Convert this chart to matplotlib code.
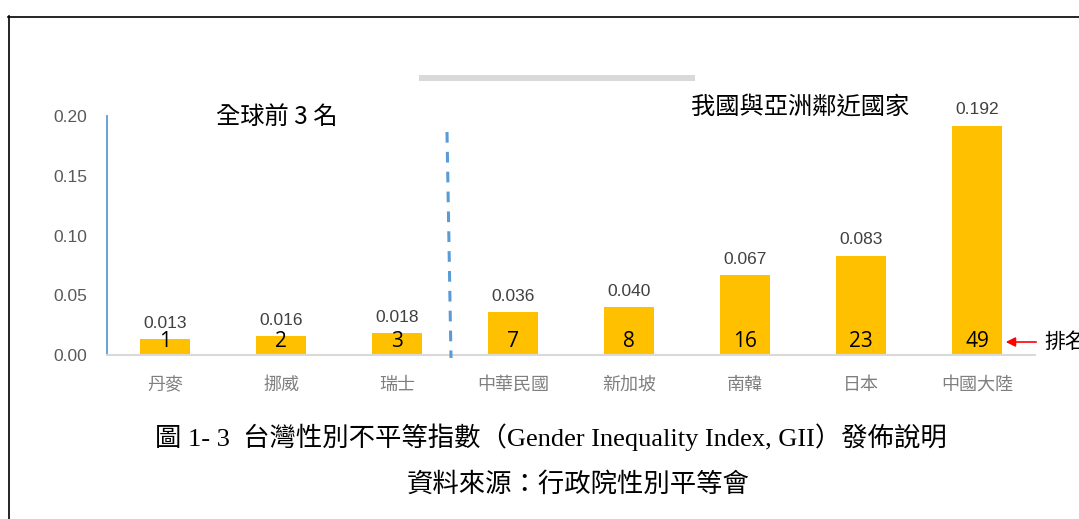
import matplotlib
matplotlib.use("Agg")
import matplotlib.pyplot as plt
from matplotlib.lines import Line2D
from matplotlib.patches import Rectangle

plt.rcParams['font.family'] = ['Noto Sans CJK TC', 'DejaVu Sans']

categories = ['丹麥', '挪威', '瑞士', '中華民國', '新加坡', '南韓', '日本', '中國大陸']
gii_values = [0.013, 0.016, 0.018, 0.036, 0.040, 0.067, 0.083, 0.192]
ranks = ['1', '2', '3', '7', '8', '16', '23', '49']
value_labels = ['0.013', '0.016', '0.018', '0.036', '0.040', '0.067', '0.083', '0.192']
y_ticks = [0.00, 0.05, 0.10, 0.15, 0.20]
y_tick_labels = ['0.00', '0.05', '0.10', '0.15', '0.20']

W, H = 1079, 519
fig = plt.figure(figsize=(W / 100, H / 100), dpi=100)


def fx(px):
    return px / W


def fy(py):
    return 1 - py / H


num_font = ['Liberation Sans', 'DejaVu Sans']

# document border
fig.add_artist(Line2D([fx(8), 1.0], [fy(16.5), fy(16.5)], color='black', lw=1.2))
fig.add_artist(Line2D([fx(8.5), fx(8.5)], [fy(16), 0], color='black', lw=1.2))

# grey title placeholder bar
fig.add_artist(Rectangle((fx(419), fy(81)), fx(695) - fx(419), fy(75) - fy(81),
                         facecolor='#d9d9d9', edgecolor='none'))

ax = fig.add_axes([fx(107), fy(355), fx(1035) - fx(107), fy(116) - fy(355)])
x = list(range(len(categories)))
ax.bar(x, gii_values, width=0.43, color='#ffc000', zorder=2)
ax.set_xlim(-0.5, 7.5)
ax.set_ylim(0, 0.20)

for s in ['top', 'right']:
    ax.spines[s].set_visible(False)
ax.spines['left'].set_color('#5b9bd5')
ax.spines['left'].set_linewidth(1.3)
ax.spines['bottom'].set_color('#d9d9d9')
ax.spines['bottom'].set_linewidth(1.5)

ax.set_yticks(y_ticks)
ax.set_yticklabels(y_tick_labels, color='#595959', fontsize=12.5, family=num_font)
ax.tick_params(axis='y', length=0, pad=14)
ax.set_xticks(x)
ax.set_xticklabels(categories, color='#7f7f7f', fontsize=13)
ax.tick_params(axis='x', length=0, pad=15)

for xi, v, lab, rk in zip(x, gii_values, value_labels, ranks):
    ax.annotate(lab, (xi, v), xytext=(0, 6), textcoords='offset points',
                ha='center', va='bottom', fontsize=12.5, color='#404040',
                family=num_font)
    ax.text(xi, 0.0115, rk, ha='center', va='center', fontsize=15, color='black',
            family=['Open Sans'], zorder=3)

# dashed separator
fig.add_artist(Line2D([fx(447), fx(451)], [fy(132), fy(358)], color='#5b9bd5',
                      lw=2.2, linestyle=(0, (3.5, 3))))

# group titles
fig.text(fx(277), fy(117), '全球前 3 名', ha='center', va='center', fontsize=17.5,
         color='black')
fig.text(fx(800), fy(107), '我國與亞洲鄰近國家', ha='center', va='center', fontsize=17.5,
         color='black')

# rank arrow
fig.add_artist(Line2D([fx(1036), fx(1012)], [fy(342), fy(342)], color='red', lw=1.2))
ax.annotate('', xy=(fx(1003), fy(342)), xytext=(fx(1016), fy(342)),
            xycoords='figure fraction', textcoords='figure fraction',
            arrowprops=dict(arrowstyle='-|>', color='red', lw=1.2, mutation_scale=14))
fig.text(fx(1044), fy(342), '排名', ha='left', va='center', fontsize=15, color='black')

# captions
cap_font = ['Liberation Serif', 'Noto Sans CJK TC']
fig.text(fx(551), fy(437), '圖 1- 3  台灣性別不平等指數（Gender Inequality Index, GII）發佈說明',
         ha='center', va='center', fontsize=19, color='black', family=cap_font)
fig.text(fx(578), fy(484), '資料來源：行政院性別平等會', ha='center', va='center',
         fontsize=19, color='black', family=cap_font)

fig.savefig('out.png', dpi=100)
